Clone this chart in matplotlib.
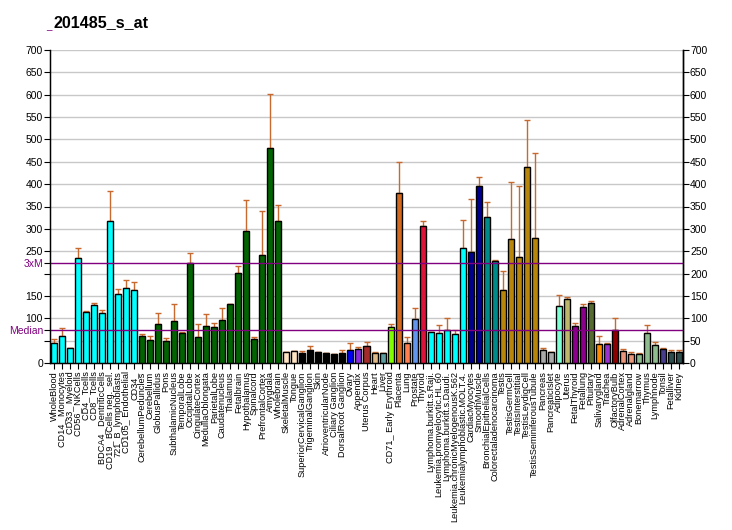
import numpy as np
import matplotlib.pyplot as plt

# probe set 201485_s_at, expression per tissue
tissues = ["WholeBlood", "CD14_ Monocytes", "CD33_ Myeloid", "CD56_ NKCells", "CD4_ Tcells",
           "CD8_ Tcells", "BDCA4_ DentriticCells", "CD19_ BCells neg._sel.", "721_B_lymphoblasts",
           "CD105_ Endothelial", "CD34_", "CerebellumPeduncles", "Cerebellum", "GlobusPallidus",
           "Pons", "SubthalamicNucleus", "TemporalLobe", "OccipitalLobe", "CingulateCortex",
           "MedullaOblongata", "ParietalLobe", "Caudatenucleus", "Thalamus", "Fetalbrain",
           "Hypothalamus", "Spinalcord", "PrefrontalCortex", "Amygdala", "Wholebrain",
           "SkeletalMuscle", "Tongue", "SuperiorCervicalGanglion", "TrigeminalGanglion", "Skin",
           "AtrioventricularNode", "Ciliary Ganglion", "DorsalRoot Ganglion", "Ovary", "Appendix",
           "Uterus Corpus", "Heart", "Liver", "CD71_ Early Erythroid", "Placenta", "Lung",
           "Prostate", "Thyroid", "Lymphoma.burkitt.s.Raji.", "Leukemia.promyelocytic.HL.60",
           "Lymphoma.burkitt.s.Daudi.", "Leukemia.chronicMyelogenousK.562",
           "Leukemialymphoblastic.MOLT.4.", "CardiacMyocytes", "SmoothMuscle",
           "BronchialEpithelialCells", "Colorectaladenocarcinoma", "Testis", "TestisGermCell",
           "TestisInterstitial", "TestisLeydigCell", "TestisSeminiferousTubule", "Pancreas",
           "PancreaticIslet", "Adipocyte", "Uterus", "FetalThyroid", "Fetallung", "Pituitary",
           "Salivarygland", "Trachea", "OlfactoryBulb", "AdrenalCortex", "Adrenalgland",
           "Bonemarrow", "Thymus", "Lymphnode", "Tonsil", "Fetalliver", "Kidney"]

values = [44.7, 61, 33.5, 235, 114, 130, 112, 317.6, 154, 167.7, 163,
          61, 51.4, 87, 49, 94, 67, 223, 59, 83.5, 80.5, 97, 132.7, 201, 296, 54.4,
          241.5, 480.8, 318, 24.6, 26.8, 23, 29.8, 25.3, 21.6, 20.9, 23, 29, 31.3, 38.8,
          22.4, 22.4, 80.5, 380, 44.7, 98.4, 306.4, 69.3, 67, 73.8, 64.9, 257, 248, 395.8,
          326.5, 228, 163, 277, 237, 438.3, 279.6, 29, 24.6, 127.5, 143.9, 82.7, 125.2,
          134.2, 42.5, 42.5, 73, 26.8, 20.1, 20.1, 67.8, 41, 31.3, 24.6, 24.6]

err_top = [53.7, 78, 33.5, 257, 115.5, 134, 118.5, 384.7, 165.5, 185.6, 181,
           65, 61, 112, 56, 132, 69, 246, 87, 109.6, 89.5, 123, 132.7, 217, 364.5, 58,
           340, 601.6, 353, 24.6, 26.8, 26.8, 38, 25.3, 22.4, 20.9, 29, 44.7, 35.8, 47,
           24.6, 22.4, 87, 449.5, 58, 123, 317.6, 69.3, 85, 100.6, 73, 320, 366.8, 416,
           360, 230, 205.8, 404.8, 395.8, 543.5, 469.7, 32.8, 24.6, 151.3, 147.6, 88.7, 132,
           138, 60.4, 44, 100.6, 30.6, 24.6, 21.6, 84, 47, 32.8, 29, 29]

colors = (["#00FFFF"] * 11 + ["#006400"] * 18 + ["#FFE4C4"] * 2 + ["#000000"] * 6 +
          ["#0000FF", "#8A2BE2", "#A52A2A", "#DEB887", "#5F9EA0", "#7FFF00", "#D2691E",
           "#FF7F50", "#6495ED", "#DC143C"] + ["#00FFFF"] * 5 + ["#00008B"] * 2 +
          ["#008B8B"] * 2 + ["#B8860B"] * 5 + ["#A9A9A9"] * 2 +
          ["#7FFFD4", "#BDB76B", "#8B008B", "#8B008B", "#556B2F", "#FF8C00", "#9932CC",
           "#8B0000", "#E9967A", "#E9967A", "#8FBC8F", "#8FBC8F", "#8FBC8F", "#483D8B",
           "#2F4F4F", "#2F4F4F"])

median = 74.5
three_m = 223.6

plt.rcParams['font.family'] = ['Liberation Sans', 'DejaVu Sans']

fig = plt.figure(figsize=(7.32, 5.30), dpi=100)
ax = fig.add_axes([50 / 732, 1 - 363 / 530, 633 / 732, 313 / 530])

x = np.arange(len(values))
vals = np.array(values)
errs = np.array(err_top) - vals

ax.bar(x, vals, width=0.75, color=colors, edgecolor='black', linewidth=1.0, zorder=3)
ax.errorbar(x, vals, yerr=[np.zeros_like(errs), errs], fmt='none', ecolor='#C8692F',
            elinewidth=1.0, capsize=2.2, capthick=1.0, zorder=2)

for g in range(50, 701, 50):
    ax.axhline(g, color='#C8C8C8', linewidth=1.0, zorder=1)
ax.axhline(three_m, color='#800080', linewidth=1.0, zorder=4)
ax.axhline(median, color='#800080', linewidth=1.0, zorder=4)

ax.set_xlim(-0.5, len(values) - 0.5)
ax.set_ylim(0, 700)

ax.spines['top'].set_visible(False)
for s in ['left', 'right', 'bottom']:
    ax.spines[s].set_linewidth(1.0)

ax.set_xticks(x)
ax.set_xticklabels(tissues, rotation=90, fontsize=6.6)
ax.tick_params(axis='x', length=4, width=0.8, pad=2)

# left axis: 200 and 50 give way to 3xM / Median
lt = list(range(0, 701, 50))
ll = [str(t) if t not in (50, 200) else '' for t in lt]
ax.set_yticks(lt + [three_m, median])
ax.set_yticklabels(ll + ['3xM', 'Median'], fontsize=7.5)
ax.tick_params(axis='y', length=4, width=0.8, pad=1)
for lab, tk in zip(ax.get_yticklabels()[-2:], ax.yaxis.get_major_ticks()[-2:]):
    lab.set_color('#800080')
    tk.tick1line.set_color('#800080')

ax2 = ax.twinx()
ax2.set_ylim(0, 700)
ax2.set_yticks(lt)
ax2.set_yticklabels([str(t) for t in lt], fontsize=7.5)
ax2.tick_params(axis='y', length=4, width=0.8, pad=1)
ax2.spines['top'].set_visible(False)
ax2.spines['right'].set_linewidth(1.0)

fig.text(46 / 732, 1 - 29 / 530, '_', color='#800080', fontsize=7, va='baseline')
fig.text(53 / 732, 1 - 27 / 530, '201485_s_at', fontsize=11.6, fontweight='bold', va='baseline')

fig.savefig('out.png', dpi=100)
